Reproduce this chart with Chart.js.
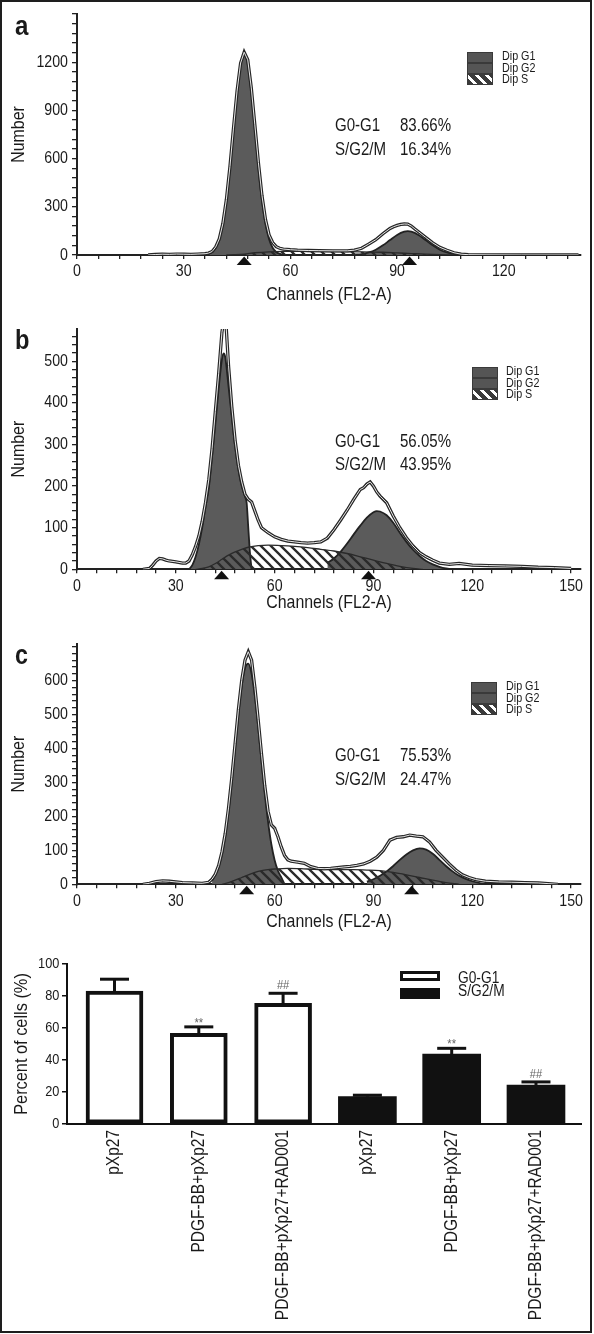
<!DOCTYPE html>
<html><head><meta charset="utf-8">
<script src="https://cdn.jsdelivr.net/npm/chart.js@4.4.1/dist/chart.umd.min.js"></script>
<style>
html,body{margin:0;padding:0;background:#fff;}
body{width:594px;height:1334px;position:relative;overflow:hidden;font-family:'Liberation Sans',Arial,sans-serif;color:#1a1a1a;}
canvas{position:absolute;left:0;}
.frame{position:absolute;left:0;top:0;width:592px;height:1333px;box-sizing:border-box;border:2px solid #1e1e1e;pointer-events:none;z-index:5;}
.t{position:absolute;white-space:nowrap;z-index:4;transform:scaleX(0.86);transform-origin:0 0;}
.sw{position:absolute;box-sizing:border-box;z-index:4;}
</style></head><body>
<canvas id="ca" width="594" height="315" style="top:0"></canvas>
<canvas id="cb" width="594" height="315" style="top:315px"></canvas>
<canvas id="cc" width="594" height="310" style="top:630px"></canvas>
<canvas id="cd" width="594" height="392" style="top:940px"></canvas>
<div class="frame"></div>
<div id="ov"></div>
<script>
// ---------------- DATA ----------------
// Panel a
const aRawX = [20,22,24,26,28,30,32,34,36,37,38,39,40,41,42,43,44,45,46,47,48,49,50,51,52,53,54,55,56,57,58,60,62,65,68,72,76,78,80,82,84,86,88,89,90,91,92,93,94,95,96,98,100,102,104,106,108,110,115,125,141];
const aRawY = [0,3,5,4,6,5,4,6,8,12,22,50,100,195,345,550,790,1020,1195,1262,1215,1040,810,575,370,220,125,78,52,42,37,33,30,28,27,26,26,30,42,68,95,132,165,176,184,190,193,192,180,162,145,110,76,48,30,14,5,2,1,0,0];
const aG1X = [37,38,39,40,41,42,43,44,45,46,47,48,49,50,51,52,53,54,55,56,57,58];
const aG1Y = [8,19,45,98,192,341,544,783,1015,1187,1250,1187,1015,783,544,341,192,98,45,19,7,0];
const aG2X = [78,80,82,84,86,88,90,92,93,94,96,98,100,102,104,106,108,110];
const aG2Y = [2,6,16,33,60,93,125,145,148,145,125,93,60,33,16,6,2,0];
const aSX = [42,44,47,50,54,58,64,72,80,86,90,94,98,102,106];
const aSY = [0,2,6,14,20,22,22,21,20,17,13,9,5,2,0];
const aPeakMarks = [47, 93.5];
const aXTickLabels = [0,30,60,90,120];
const aYTickLabels = [0,300,600,900,1200];
const aStats = [['G0-G1','83.66%'],['S/G2/M','16.34%']];

// Panel b
const bRawX = [20,22,23,24,25,26,27,28,30,32,33,34,35,36,37,38,39,40,41,42,43,44,45,46,47,48,49,50,51,52,53,54,55,56,57,58,60,62,64,66,68,70,72,74,76,78,80,82,84,85,86,87,88,89,90,91,92,94,96,98,100,102,104,106,108,110,113,116,120,125,130,135,140,145,150];
const bRawY = [0,2,10,20,26,25,22,20,18,15,15,20,35,55,80,115,160,215,290,380,470,570,620,490,390,310,250,210,180,168,162,140,118,100,94,88,78,72,68,66,64,63,64,66,75,95,118,142,168,180,192,196,205,210,200,186,176,160,128,100,76,56,40,30,22,15,12,14,10,9,8,7,5,4,2];
const bG1X = [34,35,36,37,38,39,40,41,42,43,44,44.5,45,46,47,48,49,50,51,51.5,52,52.5,53];
const bG1Y = [0,10,30,60,100,150,195,270,350,435,505,519,510,440,365,295,240,200,175,160,100,40,0];
const bG2X = [76,78,80,82,84,86,88,90,91,92,94,96,98,100,102,104,106,108,110,112,114];
const bG2Y = [15,26,42,62,84,105,124,137,140,139,130,112,88,66,47,32,20,12,6,2,0];
const bSX = [36,38,40,42,44,46,48,50,52,55,58,62,66,70,74,78,82,86,90,94,98,102,105];
const bSY = [0,2,6,14,24,34,42,48,53,57,58,57,55,52,48,44,38,30,22,14,7,2,0];
const bPeakMarks = [43.9, 88.5];
const bXTickLabels = [0,30,60,90,120,150];
const bYTickLabels = [0,100,200,300,400,500];
const bStats = [['G0-G1','56.05%'],['S/G2/M','43.95%']];

// Panel c
const cRawX = [20,22,24,26,28,30,32,35,38,40,41,42,43,44,45,46,47,48,49,50,51,52,53,54,55,56,57,58,59,60,61,62,63,64,65,67,69,71,73,75,77,79,81,83,85,87,89,91,93,95,97,99,101,103,105,107,109,111,113,115,117,119,121,124,128,132,136,140,143,146];
const cRawY = [0,3,8,10,9,7,5,4,3,6,15,30,55,95,150,225,315,415,515,600,660,685,660,580,485,385,290,215,175,165,140,110,85,72,68,65,62,52,47,46,47,49,51,53,56,60,68,80,100,130,138,140,145,142,140,125,100,80,60,42,28,20,14,9,7,6,5,4,2,0];
const cG1X = [41,42,43,44,45,46,47,48,49,50,51,52,53,54,55,56,57,58,59,60,61,62,63];
const cG1Y = [12,28,51,88,142,215,305,404,502,584,636,650,620,554,464,364,267,184,118,71,40,21,0];
const cG2X = [88,90,92,94,96,98,100,102,104,106,108,110,112,114,116,118,120,122,124];
const cG2Y = [8,15,25,38,54,72,88,100,106,102,90,72,54,38,25,16,9,4,0];
const cSX = [44,46,48,50,52,54,56,58,60,64,68,72,76,80,84,88,92,96,100,104,108,112,116];
const cSY = [0,5,12,20,28,35,40,43,45,47,46,44,43,43,43,42,40,35,28,20,12,5,0];
const cPeakMarks = [51.5, 101.6];
const cXTickLabels = [0,30,60,90,120,150];
const cYTickLabels = [0,100,200,300,400,500,600];
const cStats = [['G0-G1','75.53%'],['S/G2/M','24.47%']];

const legendNames = ['Dip G1','Dip G2','Dip S'];

// Bar chart
const barCategories = ['pXp27','PDGF-BB+pXp27','PDGF-BB+pXp27+RAD001','pXp27','PDGF-BB+pXp27','PDGF-BB+pXp27+RAD001'];
const g0g1Mean = [83, 56.7, 75.4];
const g0g1SD = [7.5, 4, 6.3];
const sg2mMean = [17.1, 43.7, 24.4];
const sg2mSD = [0.9, 3.6, 1.9];
const sigMarks = ['', '**', '##', '', '**', '##'];
const barYTicks = [0,20,40,60,80,100];

// ---------------- RENDER ----------------
const FONT = "'Liberation Sans',Arial,sans-serif";
const CONDENSE = 0.86;
// condensed lettering like the original figure: squeeze canvas text horizontally
const _fillText = CanvasRenderingContext2D.prototype.fillText;
CanvasRenderingContext2D.prototype.fillText = function(t, x, y, mw){
  const w = this.measureText(t).width * CONDENSE;
  return _fillText.call(this, t, x, y, (mw === undefined || mw === null) ? w : Math.min(mw, w));
};
Chart.defaults.font.family = FONT;
Chart.defaults.color = '#1a1a1a';

function makeHatch(ctx){
  const s = 10, t = document.createElement('canvas');
  t.width = t.height = s;
  const g = t.getContext('2d');
  g.strokeStyle = '#2a2a2a'; g.lineWidth = 2.3;
  g.beginPath();
  for (let k = -1; k <= 1; k++){ g.moveTo(-1, k*s-1); g.lineTo(s+1, s+k*s+1); }
  g.stroke();
  return ctx.createPattern(t, 'repeat');
}

const peakPlugin = {
  id: 'peakMarks',
  afterDraw(chart, args, opts){
    const ctx = chart.ctx, xs = chart.scales.x, y0 = chart.chartArea.bottom + 1.5;
    ctx.save(); ctx.fillStyle = '#111';
    (opts.channels || []).forEach(ch => {
      const x = xs.getPixelForValue(ch);
      ctx.beginPath(); ctx.moveTo(x, y0); ctx.lineTo(x - 7.5, y0 + 8.5); ctx.lineTo(x + 7.5, y0 + 8.5); ctx.closePath(); ctx.fill();
    });
    ctx.restore();
  }
};

function pts(xs, ys){ return xs.map((x, i) => ({x, y: ys[i]})); }
function range(step, max){ const r = []; for (let v = 0; v <= max + 1e-9; v += step) r.push({value: v}); return r; }

function histChart(id, c){
  const ctx = document.getElementById(id).getContext('2d');
  const pat = makeHatch(ctx);
  const gauss = (xs, ys, ord) => ({data: pts(xs, ys), borderColor: '#222', borderWidth: 1.8, backgroundColor: '#5b5b5b', fill: 'origin', pointRadius: 0, cubicInterpolationMode: 'monotone', order: ord});
  return new Chart(ctx, {
    type: 'line',
    data: {datasets: [
      {data: pts(c.rawX, c.rawY), borderColor: '#e8e8e8', borderWidth: 1.0, pointRadius: 0, tension: 0, fill: false, order: 0},
      {data: pts(c.rawX, c.rawY), borderColor: '#262626', borderWidth: 3.3, pointRadius: 0, tension: 0, fill: false, order: 1},
      {data: pts(c.sX, c.sY), borderColor: '#2a2a2a', borderWidth: 1.3, backgroundColor: pat, fill: 'origin', pointRadius: 0, cubicInterpolationMode: 'monotone', order: 2},
      gauss(c.g2X, c.g2Y, 3),
      gauss(c.g1X, c.g1Y, 4)
    ]},
    options: {
      responsive: false, animation: false, events: [],
      layout: {padding: {top: c.padTop, right: 13, left: 0, bottom: 0}},
      plugins: {legend: {display: false}, tooltip: {enabled: false}, peakMarks: {channels: c.marks}},
      scales: {
        x: {
          type: 'linear', min: 0, max: c.xMax,
          afterFit: s => { s.height = c.xAxisH; },
          afterBuildTicks: s => { s.ticks = range(6, c.xMax); },
          ticks: {autoSkip: false, maxRotation: 0, minRotation: 0, padding: 3, font: {size: 16.5, lineHeight: 1.2},
                  callback: v => c.xLabels.includes(Math.round(v*1000)/1000) ? String(v) : ''},
          grid: {drawOnChartArea: false, drawTicks: true, tickLength: 4, color: '#222', lineWidth: 1.3},
          border: {display: true, width: 2, color: '#222'},
          title: {display: true, text: 'Channels (FL2-A)', font: {size: 18.5, lineHeight: 1}, padding: {top: 0, bottom: c.xTitlePad}}
        },
        y: {
          type: 'linear', min: 0, max: c.yMax,
          afterFit: s => { s.width = 77; },
          afterBuildTicks: s => { s.ticks = range(c.yMinor, c.yMax); },
          ticks: {autoSkip: false, padding: 4, font: {size: 16.5, lineHeight: 1.2},
                  callback: v => c.yLabels.includes(Math.round(v*1000)/1000) ? String(v) : ''},
          grid: {drawOnChartArea: false, drawTicks: true, tickLength: 5, color: '#222', lineWidth: 1.3},
          border: {display: true, width: 2, color: '#222'},
          title: {display: true, text: 'Number', font: {size: 18.5, lineHeight: 1}, padding: {top: 10, bottom: 0}}
        }
      }
    },
    plugins: [peakPlugin]
  });
}

histChart('ca', {rawX: aRawX, rawY: aRawY, g1X: aG1X, g1Y: aG1Y, g2X: aG2X, g2Y: aG2Y, sX: aSX, sY: aSY,
  marks: aPeakMarks, xLabels: aXTickLabels, yLabels: aYTickLabels, xMax: 141.7, yMax: 1500, yMinor: 60,
  padTop: 14, xAxisH: 60, xTitlePad: 10.5});
histChart('cb', {rawX: bRawX, rawY: bRawY, g1X: bG1X, g1Y: bG1Y, g2X: bG2X, g2Y: bG2Y, sX: bSX, sY: bSY,
  marks: bPeakMarks, xLabels: bXTickLabels, yLabels: bYTickLabels, xMax: 153, yMax: 578, yMinor: 20,
  padTop: 13.3, xAxisH: 60.7, xTitlePad: 17.5});
histChart('cc', {rawX: cRawX, rawY: cRawY, g1X: cG1X, g1Y: cG1Y, g2X: cG2X, g2Y: cG2Y, sX: cSX, sY: cSY,
  marks: cPeakMarks, xLabels: cXTickLabels, yLabels: cYTickLabels, xMax: 153, yMax: 708, yMinor: 20,
  padTop: 12.7, xAxisH: 55.7, xTitlePad: 9});

// Bar chart
const errPlugin = {
  id: 'errBars',
  afterDatasetsDraw(chart){
    const ctx = chart.ctx, ys = chart.scales.y;
    ctx.save();
    chart.data.datasets.forEach((ds, di) => {
      const meta = chart.getDatasetMeta(di);
      meta.data.forEach((el, i) => {
        const d = ds.data[i];
        const top = ys.getPixelForValue(d.y + d.sd);
        ctx.strokeStyle = '#111'; ctx.lineWidth = 3;
        ctx.beginPath(); ctx.moveTo(el.x, el.y); ctx.lineTo(el.x, top); ctx.stroke();
        ctx.beginPath(); ctx.moveTo(el.x - 14.5, top); ctx.lineTo(el.x + 14.5, top); ctx.stroke();
        const m = sigMarks[d.x];
        if (m){
          ctx.fillStyle = '#666'; ctx.font = "13px " + FONT; ctx.textAlign = 'center'; ctx.textBaseline = 'alphabetic';
          ctx.fillText(m, el.x, top - (m === '**' ? 0 : 4));
        }
      });
    });
    ctx.restore();
  }
};

new Chart(document.getElementById('cd').getContext('2d'), {
  type: 'bar',
  data: {datasets: [
    {label: 'G0-G1', data: g0g1Mean.map((v, i) => ({x: i, y: v, sd: g0g1SD[i]})), backgroundColor: '#fff', borderColor: '#111', borderWidth: 4, borderSkipped: false, barThickness: 57, grouped: false},
    {label: 'S/G2/M', data: sg2mMean.map((v, i) => ({x: i + 3, y: v, sd: sg2mSD[i]})), backgroundColor: '#111', borderColor: '#111', borderWidth: 0, barThickness: 58, grouped: false}
  ]},
  options: {
    responsive: false, animation: false, events: [],
    layout: {padding: {top: 24, right: 13, left: 0, bottom: 0}},
    plugins: {legend: {display: false}, tooltip: {enabled: false}},
    scales: {
      x: {
        type: 'linear', min: -0.5635, max: 5.534, offset: false,
        afterFit: s => { s.height = 208; },
        afterBuildTicks: s => { s.ticks = barCategories.map((_, i) => ({value: i})); },
        ticks: {autoSkip: false, minRotation: 90, maxRotation: 90, padding: 6, font: {size: 18, lineHeight: 1.2},
                callback: v => barCategories[v]},
        grid: {drawOnChartArea: false, drawTicks: false, offset: false},
        border: {display: true, width: 2, color: '#111'}
      },
      y: {
        min: 0, max: 100,
        afterFit: s => { s.width = 67; },
        afterBuildTicks: s => { s.ticks = barYTicks.map(v => ({value: v})); },
        ticks: {padding: 2.7, font: {size: 14.8, lineHeight: 1.2}},
        grid: {drawOnChartArea: false, drawTicks: true, tickLength: 5, color: '#111', lineWidth: 1.5},
        border: {display: true, width: 2, color: '#111'},
        title: {display: true, text: 'Percent of cells (%)', font: {size: 19, lineHeight: 1}, padding: {top: 12, bottom: 0}}
      }
    }
  },
  plugins: [errPlugin]
});

// ---------------- OVERLAY TEXT ----------------
const ov = document.getElementById('ov');
function txt(s, left, baseline, size, extra){
  const d = document.createElement('div');
  d.className = 't';
  d.textContent = s;
  d.style.cssText += `left:${left}px;top:${baseline - 0.846*size}px;font-size:${size}px;line-height:${size}px;` + (extra || '');
  ov.appendChild(d);
}
function box(left, top, w, h, css){
  const d = document.createElement('div');
  d.className = 'sw';
  d.style.cssText += `left:${left}px;top:${top}px;width:${w}px;height:${h}px;` + css;
  ov.appendChild(d);
}
// panel letters
txt('a', 15, 35.7, 28, 'font-weight:bold;');
txt('b', 15, 349.3, 27.5, 'font-weight:bold;');
txt('c', 15, 665, 27, 'font-weight:bold;');
// stats
[[aStats, 131.7, 155.5], [bStats, 448.3, 470.7], [cStats, 761.7, 786]].forEach(([st, b1, b2]) => {
  txt(st[0][0], 335, b1, 17.5); txt(st[0][1], 399.5, b1, 17.5);
  txt(st[1][0], 335, b2, 17.5); txt(st[1][1], 399.5, b2, 17.5);
});
// dip legends
[[467, 51.7], [471.5, 366.7], [471, 681.7]].forEach(([lx, ly]) => {
  const rh = 11.2;
  box(lx, ly, 26, rh, 'background:#555;border:1.5px solid #3a3a3a;');
  box(lx, ly + rh, 26, rh, 'background:#555;border:1.5px solid #3a3a3a;');
  box(lx, ly + 2*rh, 26, rh, 'background:repeating-linear-gradient(45deg,#3a3a3a 0 4px,#fff 4px 7px);border:1.5px solid #3a3a3a;');
  legendNames.forEach((n, i) => txt(n, lx + 34.5, ly + 9.3 + i*rh, 12.5));
});
// bar legend
box(400, 970.7, 40, 10.3, 'background:#fff;border:3px solid #111;');
box(400, 988, 40, 11, 'background:#111;');
txt('G0-G1', 458, 983.3, 16);
txt('S/G2/M', 458, 996.8, 16);
</script>
</body></html>
